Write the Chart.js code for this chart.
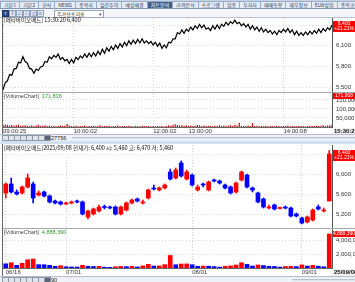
<!DOCTYPE html>
<html>
<head>
<meta charset="utf-8">
<title>메타바이오메드 차트</title>
<script src="https://cdn.jsdelivr.net/npm/chart.js@4.4.1/dist/chart.umd.min.js"></script>
<style>
  html, body { margin: 0; padding: 0; }
  body { width: 355px; height: 282px; position: relative; overflow: hidden; background: #fff;
         font-family: "Noto Sans CJK KR", "Noto Sans", sans-serif; color: #222; }
  .abs { position: absolute; }
  #tabs { left: 0; top: 0; width: 355px; height: 8px; background: #c7d4e5; border-bottom: 1px solid #8196b6; white-space: nowrap; overflow: hidden; }
  .tab { display: inline-block; height: 6px; margin-top: 1px; margin-right: -1px; padding: 0 3px; border: 1px solid #98aac6; border-bottom: none;
         background: #e6ecf5; font-size: 5px; line-height: 6px; color: #2b3d5c; vertical-align: top; }
  .tab.on { background: #3f5f93; color: #fff; }
  #tools { left: 0; top: 9px; width: 355px; height: 8px; background: #f3f5f8; border-bottom: 1px solid #b9c3d1; }
  .ico { position: absolute; top: 1px; width: 5px; height: 5px; border: 1px solid #8ea1bd; background: #e2e9f3;
         font-size: 4px; line-height: 5px; text-align: center; color: #2f4f86; }
  .ico.dark { background: #2c4f8c; color: #fff; border-color: #1d3766; }
  #combo { left: 54px; top: 10px; width: 46px; height: 6px; border: 1px solid #9aa6b6; background: #fff; font-size: 5px; line-height: 6px; padding-left: 2px; }
  #combo span { position: absolute; right: 1px; top: 0; color: #555; }
  .frameL { left: 2px; width: 1px; background: #666; }
  .sep { left: 3px; width: 352px; height: 1px; background: #a9a9a9; }
  .head { left: 4px; font-size: 5.5px; line-height: 7px; white-space: nowrap; color: #111; }
  .volh { left: 4px; font-size: 5.5px; line-height: 6px; white-space: nowrap; color: #444; font-family: "Liberation Sans", sans-serif; }
  .volh b { font-weight: normal; color: #2f9a2f; margin-left: 3px; }
  .bar { left: 0; width: 355px; height: 6px; background: #eef1f5; border-top: 1px solid #b5bfcc; }
  .bar .ico { top: 0; width: 5px; height: 4px; background: #dfe4ea; border-color: #8d97a5; }
  .bar .cnt { position: absolute; left: 51px; top: 0; font: 5.5px/6px "Liberation Sans", sans-serif; color: #222; }
  .bar .track { position: absolute; top: 2px; height: 1px; background: #b8c4d3; border-bottom: 1px solid #dde4ee; }
  .band { left: 0; width: 355px; height: 3px; background: #d3e0f0; }
  canvas { position: absolute; left: 0; }
</style>
</head>
<body>

<div id="tabs" class="abs"></div>
<div id="tools" class="abs">
  <div class="ico dark" style="left:2px">T</div>
  <div class="ico" style="left:9px">↕</div>
  <div class="ico" style="left:16px">∠</div>
  <div class="ico" style="left:23px">≡</div>
  <div class="ico" style="left:30px">◫</div>
  <div class="ico" style="left:37px">D</div>
</div>
<div id="combo" class="abs">주가보조지표<span>▾</span></div>

<!-- upper chart: intraday -->
<div class="abs frameL" style="top:17px;height:118px"></div>
<canvas id="c1p" width="355" height="75" style="top:18px"></canvas>
<div class="abs sep" style="top:92px"></div>
<canvas id="c1v" width="355" height="42" style="top:93px"></canvas>
<div id="h1" class="abs head" style="top:17px"></div>
<div id="v1" class="abs volh" style="top:93px"></div>
<div class="abs bar" style="top:134px">
  <div class="ico" style="left:2px"></div><div class="ico" style="left:8px"></div><div class="ico" style="left:14px"></div>
  <div class="ico" style="left:20px"></div><div class="ico" style="left:26px"></div><div class="ico" style="left:32px"></div>
  <div class="ico" style="left:38px"></div><div class="ico" style="left:44px;background:#5a6678"></div>
  <div id="n1" class="cnt"></div>
  <div class="track" style="left:72px;width:283px"></div>
</div>
<div class="abs band" style="top:141px"></div>

<!-- lower chart: daily candles -->
<div class="abs frameL" style="top:144px;height:132px"></div>
<canvas id="c2p" width="355" height="83" style="top:145px"></canvas>
<div class="abs sep" style="top:228px"></div>
<canvas id="c2v" width="355" height="47" style="top:229px"></canvas>
<div id="h2" class="abs head" style="top:145px"></div>
<div id="v2" class="abs volh" style="top:229px"></div>
<div class="abs bar" style="top:276px">
  <div class="ico" style="left:2px"></div><div class="ico" style="left:8px"></div><div class="ico" style="left:14px"></div>
  <div class="ico" style="left:20px"></div><div class="ico" style="left:26px"></div><div class="ico" style="left:32px"></div>
  <div class="ico" style="left:38px"></div><div class="ico" style="left:44px;background:#5a6678"></div>
  <div id="n2" class="cnt"></div>
  <div class="track" style="left:292px;width:63px"></div>
</div>

<script>
// ---- data ------------------------------------------------------------------
const NAME = '메타바이오메드';
const TABS = ['기본1', '기본2', '공식', 'NEWS', '종목사', '일간추이', '예상체결', '차트분석', '가격분석', '프로그램', '업종', '투자자', '매매동향', '재무정보', 'ELW상위', '종목코'];

// intraday ticks (upper chart)
const PRICE1 = [
  5460, 5560, 5590, 5680, 5670, 5760, 5770, 5860, 5850, 5940,
  5870, 5850, 5770, 5760, 5700, 5760, 5740, 5790, 5800, 5870,
  5860, 5940, 5910, 5960, 5930, 5980, 5900, 5930, 5880, 5900,
  5840, 5900, 5850, 5930, 5900, 5950, 5920, 5980, 5930, 5990,
  5940, 6000, 5950, 6020, 5970, 6050, 5990, 6070, 6020, 6090,
  6040, 6110, 6060, 6130, 6080, 6150, 6100, 6170, 6120, 6180,
  6130, 6190, 6140, 6200, 6140, 6170, 6130, 6160, 6110, 6150,
  6090, 6140, 6060, 6110, 6070, 6150, 6140, 6200, 6200, 6290,
  6270, 6330, 6280, 6340, 6310, 6370, 6330, 6390, 6350, 6410,
  6360, 6400, 6340, 6360, 6320, 6390, 6340, 6400, 6350, 6410,
  6380, 6440, 6400, 6450, 6420, 6470, 6420, 6440, 6390, 6420,
  6370, 6410, 6340, 6390, 6330, 6370, 6310, 6360, 6300, 6340,
  6290, 6320, 6270, 6310, 6260, 6320, 6290, 6340, 6300, 6350,
  6290, 6330, 6260, 6310, 6250, 6290, 6250, 6300, 6260, 6310,
  6270, 6320, 6280, 6340, 6290, 6350, 6310, 6360, 6330, 6400
];
const VOL1 = [
  9000, 14000, 12000, 8000, 11000, 7000, 9000, 13000, 6000, 8000,
  10000, 7000, 5000, 9000, 6000, 8000, 12000, 5000, 7000, 9000,
  6000, 8000, 5000, 7000, 4000, 6000, 9000, 5000, 7000, 16000,
  8000, 6000, 5000, 7000, 4000, 6000, 5000, 8000, 4000, 6000,
  5000, 7000, 4000, 5000, 9000, 4000, 6000, 5000, 7000, 4000,
  6000, 5000, 8000, 4000, 5000, 6000, 4000, 7000, 5000, 4000,
  6000, 5000, 4000, 7000, 5000, 4000, 6000, 3000, 5000, 4000,
  6000, 4000, 5000, 3000, 6000, 9000, 7000, 12000, 15000, 11000,
  8000, 10000, 7000, 9000, 6000, 8000, 5000, 7000, 11000, 9000,
  6000, 8000, 5000, 7000, 6000, 4000, 7000, 5000, 9000, 6000,
  8000, 5000, 7000, 10000, 6000, 12000, 8000, 24000, 7000, 6000,
  5000, 8000, 6000, 21000, 5000, 7000, 4000, 6000, 5000, 7000,
  4000, 5000, 6000, 4000, 7000, 5000, 4000, 6000, 5000, 8000,
  4000, 6000, 5000, 4000, 7000, 5000, 6000, 4000, 5000, 7000,
  5000, 6000, 8000, 5000, 7000, 9000, 6000, 8000, 10000, 12000
];
const VOL1_TOTAL = 171808;
const TICK_COUNT = 27756;
const LAST_TIME = '15:30:20';
const TIME_TICK_IDX = [0, 32, 68, 84, 127];
const TIME_TICK_TEXT = ['09:00:25', '10:00:02', '12:00:02', '13:00:00', '14:00:08'];
const PRICE1_TICKS = [5500, 5800, 6100, 6400];
const VOL1_TICKS = [50000, 100000, 150000];

// daily candles (lower chart)
const DATES = [
  '06/16', '06/17', '06/18', '06/19', '06/20', '06/23', '06/24', '06/25', '06/26', '06/27', '06/30',
  '07/01', '07/02', '07/03', '07/04', '07/07', '07/08', '07/09', '07/10', '07/11', '07/14', '07/15',
  '07/16', '07/17', '07/18', '07/21', '07/22', '07/23', '07/24', '07/25', '07/28', '07/29', '07/30', '07/31',
  '08/01', '08/04', '08/05', '08/06', '08/07', '08/08', '08/11', '08/12', '08/13', '08/14', '08/18',
  '08/19', '08/20', '08/21', '08/22', '08/25', '08/26', '08/27', '08/28', '08/29',
  '09/01', '09/02', '09/03', '09/04', '09/05', '09/08'
];
const OPEN = [
  5620, 5800, 5640, 5620, 5740, 5800, 5580, 5640, 5560, 5460,
  5440, 5400, 5420, 5460, 5440, 5140, 5200, 5260, 5340, 5340,
  5340, 5200, 5280, 5420, 5500, 5420, 5520, 5720, 5680, 5720,
  6040, 5920, 6220, 5900, 5980, 5680, 5790, 5680, 5870, 5860,
  5780, 5740, 5640, 5880, 5980, 5720, 5620, 5500, 5320, 5380,
  5310, 5340, 5320, 5200, 5120, 5040, 5080, 5340, 5260, 5460
];
const HIGH = [
  5820, 5920, 5680, 5760, 6000, 5840, 5660, 5660, 5580, 5480,
  5460, 5440, 5460, 5480, 5460, 5280, 5320, 5380, 5380, 5360,
  5360, 5360, 5440, 5500, 5520, 5480, 5700, 5780, 5740, 5800,
  6100, 6120, 6260, 6080, 6000, 5780, 5820, 5860, 5900, 5880,
  5800, 5760, 5840, 6060, 6000, 5740, 5640, 5520, 5380, 5400,
  5340, 5360, 5340, 5220, 5140, 5160, 5300, 5380, 5320, 6470
];
const LOW = [
  5520, 5620, 5580, 5600, 5720, 5420, 5560, 5540, 5420, 5400,
  5380, 5390, 5400, 5420, 5180, 5100, 5180, 5240, 5300, 5300,
  5180, 5180, 5260, 5400, 5440, 5400, 5500, 5680, 5660, 5700,
  5880, 5900, 5940, 5880, 5760, 5660, 5740, 5660, 5840, 5800,
  5700, 5600, 5620, 5860, 5720, 5640, 5420, 5320, 5300, 5280,
  5300, 5300, 5140, 5140, 5000, 5020, 5060, 5280, 5240, 5460
];
const CLOSE = [
  5800, 5640, 5600, 5740, 5920, 5520, 5620, 5560, 5440, 5420,
  5400, 5420, 5440, 5440, 5200, 5260, 5300, 5340, 5330, 5320,
  5200, 5340, 5420, 5480, 5460, 5440, 5680, 5700, 5720, 5780,
  5900, 6080, 5960, 6040, 5780, 5740, 5780, 5840, 5860, 5820,
  5720, 5620, 5820, 6040, 5740, 5680, 5440, 5340, 5340, 5300,
  5320, 5320, 5160, 5160, 5020, 5140, 5280, 5300, 5280, 6400
];
const VOL2 = [
  600000, 760000, 380000, 670000, 1190000, 1290000, 480000, 470000, 380000, 240000,
  330000, 180000, 150000, 140000, 380000, 250000, 210000, 230000, 120000, 100000,
  180000, 230000, 190000, 240000, 150000, 300000, 520000, 280000, 300000, 480000,
  1800000, 470000, 570000, 590000, 470000, 240000, 280000, 260000, 200000, 130000,
  250000, 300000, 430000, 760000, 520000, 280000, 430000, 350000, 250000, 220000,
  130000, 220000, 250000, 200000, 450000, 280000, 380000, 260000, 170000, 4888390
];
const LAST_DATE = '2025/09/08';
const LAST_DATE_SHORT = '25/09/08';
const DATE_TICKS = ['06/16', '07/01', '08/01', '09/01'];
const PRICE2_TICKS = [5200, 5600, 6000, 6400];
const VOL2_TICKS = [2000000, 4000000];
const DAY_COUNT = 90;

// ---- helpers ---------------------------------------------------------------
const RED = '#ff0000';
const BLUE = '#0000ff';
const fmt = v => Math.round(v).toLocaleString('en-US');

Chart.defaults.font.family = '"Liberation Sans", "DejaVu Sans", sans-serif';
Chart.defaults.font.size = 6;
Chart.defaults.color = '#333';

// red value tags on the right axis + boxed end label under it
Chart.register({
  id: 'tag',
  afterDraw(chart, args, o) {
    const { ctx, chartArea, scales } = chart;
    const x = chartArea.right + 1, w = chart.width - x;
    ctx.save();
    if (o.lines) {
      const h = o.lines.length * 5 + 1;
      let y = Math.round(scales.y.getPixelForValue(o.value) - h / 2 + (o.shift || 0));
      y = Math.max(chartArea.top, y);
      ctx.fillStyle = RED;
      ctx.fillRect(x, y, w, h);
      ctx.fillStyle = '#fff';
      ctx.font = '5px "Liberation Sans", sans-serif';
      ctx.textAlign = 'center';
      ctx.textBaseline = 'top';
      o.lines.forEach((t, i) => ctx.fillText(t, x + w / 2, y + 0.5 + i * 5));
    }
    if (o.endLabel) {
      ctx.fillStyle = '#f2f2f2';
      ctx.fillRect(x, chartArea.bottom + 1, w, 7);
      ctx.fillStyle = '#111';
      ctx.font = 'bold 6px "Liberation Sans", sans-serif';
      ctx.textAlign = 'left';
      ctx.textBaseline = 'top';
      ctx.fillText(o.endLabel, x + 1, chartArea.bottom + 1.5);
    }
    ctx.restore();
  }
});

function yAxis(min, max, ticks) {
  return {
    position: 'right', min, max,
    afterFit: s => { s.width = 23; s.paddingTop = 0; s.paddingBottom = 0; },
    afterBuildTicks: s => { s.ticks = ticks.map(v => ({ value: v })); },
    ticks: { padding: 4, color: '#333', font: { size: 6 }, callback: v => fmt(v) },
    grid: { color: '#d6d6d6', drawTicks: false },
    border: { color: '#555', dash: [1, 2] }
  };
}

function xAxis(tickIdx, tickText, showLabels, offset) {
  return {
    type: 'category', offset,
    afterFit: s => { s.height = showLabels ? 8 : 0; s.paddingLeft = 0; s.paddingRight = 0; },
    afterBuildTicks: s => { s.ticks = tickIdx.map(v => ({ value: v })); },
    ticks: {
      display: showLabels, autoSkip: false, maxRotation: 0, align: 'start', padding: 1,
      color: '#333', font: { size: 6 },
      callback: v => tickText[tickIdx.indexOf(v)]
    },
    grid: { color: '#d0d0d0', drawTicks: false, offset: false },
    border: { display: showLabels, color: '#666', dash: [1, 2] }
  };
}

function opts(x, y, tag) {
  return {
    responsive: false, animation: false, events: [],
    layout: { padding: { left: 3, right: 0, top: 0, bottom: 0 } },
    plugins: { legend: { display: false }, tooltip: { enabled: false }, tag },
    scales: { x, y }
  };
}

// ---- upper chart -------------------------------------------------------------
const idx1 = PRICE1.map((_, i) => i);
const last1 = PRICE1[PRICE1.length - 1];
const prevClose = CLOSE[CLOSE.length - 2];
const pct = '+' + ((CLOSE[CLOSE.length - 1] / prevClose - 1) * 100).toFixed(2) + '%';

new Chart(document.getElementById('c1p'), {
  type: 'line',
  data: { labels: idx1, datasets: [{ data: PRICE1, borderColor: '#000', borderWidth: 1.2, pointRadius: 0, tension: 0 }] },
  options: opts(xAxis(TIME_TICK_IDX, TIME_TICK_TEXT, false, false), yAxis(5413, 6502, PRICE1_TICKS),
    { value: last1, lines: [fmt(last1), pct], shift: 1 })
});

new Chart(document.getElementById('c1v'), {
  type: 'bar',
  data: { labels: idx1, datasets: [{ data: VOL1, backgroundColor: '#d00000', barPercentage: 0.55, categoryPercentage: 1 }] },
  options: opts(xAxis(TIME_TICK_IDX, TIME_TICK_TEXT, true, false), yAxis(0, 188000, VOL1_TICKS),
    { value: VOL1_TOTAL, lines: [fmt(VOL1_TOTAL)], endLabel: LAST_TIME })
});

// ---- lower chart -------------------------------------------------------------
const candleColor = OPEN.map((o, i) => (CLOSE[i] >= o ? RED : BLUE));
const volColor = VOL2.map((v, i) => (i > 0 && v >= VOL2[i - 1] ? RED : BLUE));
const dateTickIdx = DATE_TICKS.map(d => DATES.indexOf(d));

new Chart(document.getElementById('c2p'), {
  type: 'bar',
  data: {
    labels: DATES,
    datasets: [
      { data: LOW.map((l, i) => [l, HIGH[i]]), backgroundColor: candleColor, barThickness: 1, grouped: false, order: 2 },
      { data: OPEN.map((o, i) => [o, CLOSE[i]]), backgroundColor: candleColor, barThickness: 4, grouped: false,
        minBarLength: 1, borderSkipped: false, order: 1 }
    ]
  },
  options: opts(xAxis(dateTickIdx, DATE_TICKS, false, true), yAxis(4920, 6580, PRICE2_TICKS),
    { value: CLOSE[CLOSE.length - 1], lines: [fmt(CLOSE[CLOSE.length - 1]), pct], shift: 1 })
});

new Chart(document.getElementById('c2v'), {
  type: 'bar',
  data: { labels: DATES, datasets: [{ data: VOL2, backgroundColor: volColor, barThickness: 4 }] },
  options: opts(xAxis(dateTickIdx, DATE_TICKS, true, true), yAxis(0, 5600000, VOL2_TICKS),
    { value: VOL2[VOL2.length - 1], lines: [fmt(VOL2[VOL2.length - 1])], endLabel: LAST_DATE_SHORT })
});

// ---- text around the charts ------------------------------------------------------
document.getElementById('tabs').innerHTML = TABS.map((t, i) => `<span class="tab${i === 7 ? ' on' : ''}">${t}</span>`).join('');
document.getElementById('h1').textContent = `[${NAME}] ${LAST_TIME}  ${fmt(last1)}`;
document.getElementById('h2').textContent =
  `[${NAME}]${LAST_DATE} 현재가: ${fmt(CLOSE[59])} 시: ${fmt(OPEN[59])} 고: ${fmt(HIGH[59])} 저: ${fmt(LOW[59])}`;
document.getElementById('v1').innerHTML = `[VolumeChart]<b>${fmt(VOL1_TOTAL)}</b>`;
document.getElementById('v2').innerHTML = `[VolumeChart]<b>${fmt(VOL2[VOL2.length - 1])}</b>`;
document.getElementById('n1').textContent = TICK_COUNT;
document.getElementById('n2').textContent = DAY_COUNT;
</script>
</body>
</html>
